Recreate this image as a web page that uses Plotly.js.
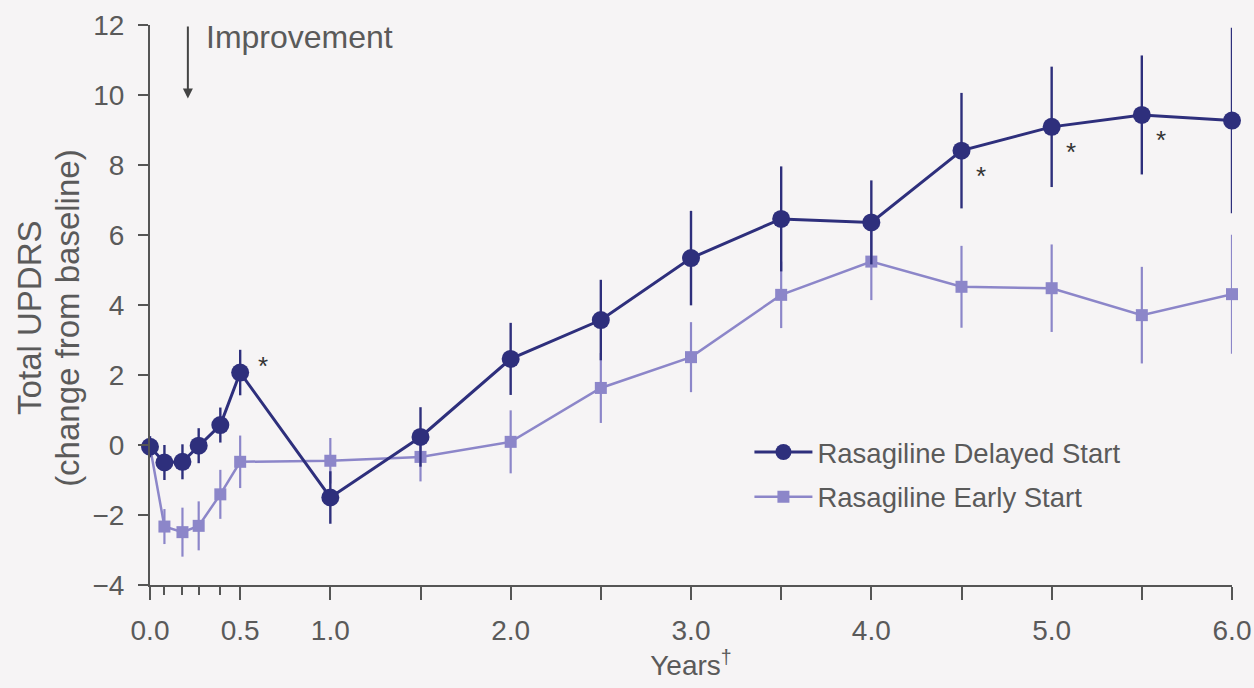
<!DOCTYPE html>
<html><head><meta charset="utf-8">
<script src="https://cdn.plot.ly/plotly-3.0.1.min.js"></script>
<style>html,body{margin:0;padding:0;background:#f6f4f5;}#chart{width:1254px;height:688px;}</style>
</head><body><div id="chart"></div>
<script>
// Data
const delayedYears = [0, 0.08, 0.18, 0.27, 0.39, 0.5, 1.0, 1.5, 2.0, 2.5, 3.0, 3.5, 4.0, 4.5, 5.0, 5.5, 6.0];
const delayedValues = [-0.05, -0.5, -0.48, -0.02, 0.57, 2.07, -1.5, 0.23, 2.46, 3.57, 5.34, 6.46, 6.36, 8.41, 9.09, 9.43, 9.27];
const delayedErr = [0.3, 0.5, 0.5, 0.5, 0.5, 0.65, 0.75, 0.85, 1.03, 1.15, 1.35, 1.5, 1.2, 1.65, 1.72, 1.7, 2.65];

const earlyYears = [0, 0.08, 0.18, 0.27, 0.39, 0.5, 1.0, 1.5, 2.0, 2.5, 3.0, 3.5, 4.0, 4.5, 5.0, 5.5, 6.0];
const earlyValues = [-0.05, -2.33, -2.49, -2.31, -1.41, -0.48, -0.45, -0.34, 0.09, 1.63, 2.51, 4.29, 5.24, 4.52, 4.48, 3.71, 4.31];
const earlyErr = [0.3, 0.5, 0.7, 0.7, 0.7, 0.75, 0.65, 0.7, 0.9, 1.0, 1.0, 0.95, 1.1, 1.17, 1.25, 1.38, 1.7];

const seriesNames = ['Rasagiline Delayed Start', 'Rasagiline Early Start'];
const xTickVals = [0, 0.5, 1.0, 1.5, 2.0, 2.5, 3.0, 3.5, 4.0, 4.5, 5.0, 5.5, 6.0];
const xTickText = ['0.0', '0.5', '1.0', '', '2.0', '', '3.0', '', '4.0', '', '5.0', '', '6.0'];
const xMinorTickVals = [0.08, 0.18, 0.27, 0.39];
const yTickVals = [-4, -2, 0, 2, 4, 6, 8, 10, 12];
const yTitleLines = ['Total UPDRS', '(change from baseline)'];
const sigYears = [0.5, 4.5, 5.0, 5.5];

const darkC = '#2e2f7c';
const lightC = '#8c86c9';
const textC = '#5a5a5a';
const font = 'Liberation Sans, Arial, sans-serif';

const early = {
  x: earlyYears, y: earlyValues, name: seriesNames[1], type: 'scatter', mode: 'lines+markers',
  legendgroup: 'b', legendrank: 2, cliponaxis: false,
  line: {color: lightC, width: 2.5},
  marker: {symbol: 'square', size: 12, color: lightC},
  error_y: {type: 'data', array: earlyErr, visible: true, color: lightC, thickness: 2.2, width: 0}
};
const delayed = {
  x: delayedYears, y: delayedValues, name: seriesNames[0], type: 'scatter', mode: 'lines+markers',
  legendgroup: 'a', legendrank: 1, cliponaxis: false,
  line: {color: darkC, width: 3},
  marker: {symbol: 'circle', size: 18, color: darkC},
  error_y: {type: 'data', array: delayedErr, visible: true, color: darkC, thickness: 2.4, width: 0}
};

const annotations = [];
sigYears.forEach(function (yr) {
  const i = delayedYears.indexOf(yr);
  const first = yr === 0.5;
  annotations.push({
    x: yr, y: delayedValues[i], xref: 'x', yref: 'y', text: '*', showarrow: false,
    xshift: first ? 23 : 19, yshift: first ? 7 : -25,
    font: {family: font, size: 26, color: '#333'}
  });
});
annotations.push({
  x: 0.21, y: 9.9, ax: 0.21, ay: 12, xref: 'x', yref: 'y', axref: 'x', ayref: 'y',
  text: '', showarrow: true, arrowhead: 2, arrowsize: 1, arrowwidth: 2, arrowcolor: '#444'
});
annotations.push({
  x: 0.3, y: 11.65, xref: 'x', yref: 'y', xanchor: 'left', yanchor: 'middle',
  text: 'Improvement', showarrow: false, font: {family: font, size: 32, color: textC}
});
// y-axis title, two rotated lines
[-0.1109, -0.0758].forEach(function (px, k) {
  annotations.push({
    x: px, y: 0.477, xref: 'paper', yref: 'paper', xanchor: 'center', yanchor: 'middle',
    text: yTitleLines[k], textangle: -90, showarrow: false,
    font: {family: font, size: 33, color: textC}
  });
});

const layout = {
  width: 1254, height: 688,
  paper_bgcolor: '#f6f4f5', plot_bgcolor: '#f6f4f5',
  margin: {l: 150, r: 22, t: 25, b: 103},
  font: {family: font, color: textC, size: 27},
  showlegend: true,
  legend: {
    x: 0.554, y: 0.281, xanchor: 'left', yanchor: 'top',
    bgcolor: 'rgba(0,0,0,0)', font: {family: font, size: 27.5, color: textC},
    traceorder: 'grouped', tracegroupgap: 6, itemwidth: 58
  },
  xaxis: {
    range: [0, 6], showgrid: false, zeroline: false, showline: true, linecolor: '#555', linewidth: 2,
    tickmode: 'array', tickvals: xTickVals, ticktext: xTickText, ticklabeloverflow: 'allow',
    ticks: 'outside', ticklen: 13, tickwidth: 2, tickcolor: '#555', ticklabelstandoff: 6,
    tickfont: {family: font, size: 28, color: textC},
    minor: {tickmode: 'array', tickvals: xMinorTickVals, ticks: 'outside', ticklen: 8, tickwidth: 2, tickcolor: '#555', showgrid: false},
    title: {text: 'Years<sup>†</sup>', font: {family: font, size: 28, color: textC}, standoff: 4}
  },
  yaxis: {
    range: [-4, 12], showgrid: false, zeroline: false, showline: true, linecolor: '#555', linewidth: 2,
    tickmode: 'array', tickvals: yTickVals,
    ticks: 'outside', ticklen: 10, tickwidth: 2, tickcolor: '#555', ticklabelstandoff: 8,
    tickfont: {family: font, size: 28, color: textC}
  },
  annotations: annotations
};

Plotly.newPlot('chart', [early, delayed], layout, {displayModeBar: false, staticPlot: true});
</script>
</body></html>
